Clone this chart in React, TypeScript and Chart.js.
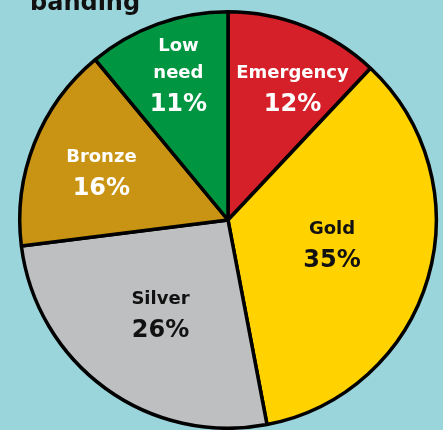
import React, { useEffect, useRef } from "react";
import { Chart, registerables } from "chart.js";

Chart.register(...registerables);

const categories = ["Emergency", "Gold", "Silver", "Bronze", "Low\nneed"];
const shares = [12, 35, 26, 16, 11];
const sliceColors = ["#d5202a", "#ffd200", "#bebfc1", "#c99413", "#009641"];
const labelColors = ["#ffffff", "#111111", "#111111", "#ffffff", "#ffffff"];
const titleText = "banding";

// label placement: [radius fraction, angle offset in degrees]
const labelPlacement = [
  [0.68, 5.5],
  [0.52, 0],
  [0.58, -2],
  [0.64, -3.4],
  [0.65, -1.7],
];

const FONT = "'DejaVu Sans', 'Liberation Sans', Arial, sans-serif";

const labelPlugin = {
  id: "sliceLabels",
  afterDatasetsDraw(chart: any) {
    const ctx = chart.ctx;
    const meta = chart.getDatasetMeta(0);
    ctx.save();
    ctx.textAlign = "center";
    ctx.textBaseline = "alphabetic";
    meta.data.forEach((arc: any, i: number) => {
      const p = arc.getProps(["x", "y", "startAngle", "endAngle", "outerRadius"], true);
      const [frac, off] = labelPlacement[i];
      const mid = (p.startAngle + p.endAngle) / 2 + (off * Math.PI) / 180;
      const r = p.outerRadius * frac;
      const ax = p.x + Math.cos(mid) * r;
      const ay = p.y + Math.sin(mid) * r;
      const pctBase = ay + 17;
      const lines = categories[i].split("\n");
      ctx.fillStyle = labelColors[i];
      ctx.font = `bold 24px ${FONT}`;
      ctx.fillText(`${shares[i]}%`, ax, pctBase);
      ctx.font = `bold 18px ${FONT}`;
      for (let k = lines.length - 1, base = pctBase - 33; k >= 0; k--, base -= 27) {
        ctx.fillText(lines[k], ax, base);
      }
    });
    ctx.restore();
  },
};

const titlePlugin = {
  id: "cutTitle",
  afterDraw(chart: any) {
    const ctx = chart.ctx;
    ctx.save();
    ctx.fillStyle = "#111111";
    ctx.font = `bold 24px ${FONT}`;
    ctx.textAlign = "left";
    ctx.textBaseline = "alphabetic";
    ctx.fillText(titleText, 30, 10);
    ctx.restore();
  },
};

export default function App() {
  const ref = useRef<HTMLCanvasElement | null>(null);
  useEffect(() => {
    if (!ref.current) return;
    const chart = new Chart(ref.current, {
      type: "pie",
      data: {
        labels: categories.map((c) => c.replace("\n", " ")),
        datasets: [
          {
            data: shares,
            backgroundColor: sliceColors,
            borderColor: "#000000",
            borderWidth: 3.5,
          },
        ],
      },
      options: {
        animation: false,
        responsive: false,
        devicePixelRatio: 1,
        layout: { padding: { left: 18, right: 5, top: 10, bottom: 0 } },
        plugins: {
          legend: { display: false },
          tooltip: { enabled: false },
          title: { display: false },
        },
      },
      plugins: [labelPlugin, titlePlugin],
    });
    return () => chart.destroy();
  }, []);
  return (
    <div
      style={{
        position: "fixed",
        left: 0,
        top: 0,
        width: 443,
        height: 430,
        background: "#9bd5dc",
        overflow: "hidden",
      }}
    >
      <canvas ref={ref} width={443} height={430} style={{ display: "block" }} />
    </div>
  );
}
